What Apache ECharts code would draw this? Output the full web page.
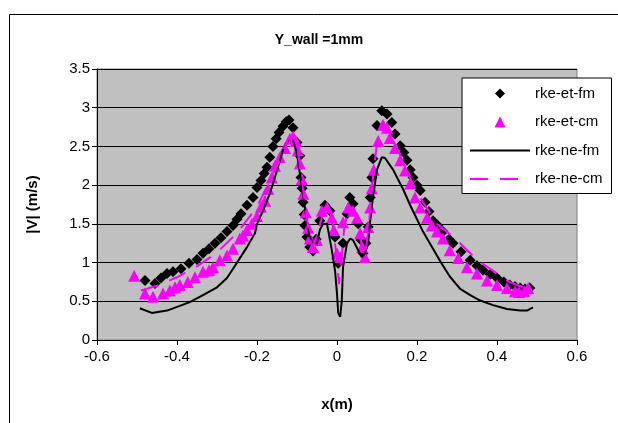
<!DOCTYPE html>
<html>
<head>
<meta charset="utf-8">
<script src="https://cdn.jsdelivr.net/npm/echarts@6/dist/echarts.min.js"></script>
<style>
html,body{margin:0;padding:0;background:#fff;}
#chart{width:618px;height:423px;}
</style>
</head>
<body>
<div id="chart"></div>
<script>
var titleText = 'Y_wall =1mm';
var xName = 'x(m)';
var yName = '|V| (m/s)';
var seriesNames = ['rke-et-fm', 'rke-et-cm', 'rke-ne-fm', 'rke-ne-cm'];

var etFm = [
[-0.48,0.77],[-0.455,0.73],[-0.44,0.8],[-0.425,0.86],[-0.41,0.88],[-0.39,0.92],[-0.37,0.99],[-0.35,1.04],
[-0.335,1.12],[-0.32,1.18],[-0.305,1.25],[-0.29,1.32],[-0.275,1.4],[-0.26,1.48],[-0.25,1.56],[-0.24,1.63],
[-0.225,1.74],[-0.21,1.84],[-0.2,1.97],[-0.19,2.06],[-0.182,2.15],[-0.175,2.23],[-0.168,2.36],[-0.16,2.5],
[-0.152,2.6],[-0.145,2.68],[-0.135,2.76],[-0.127,2.82],[-0.12,2.84],[-0.11,2.74],[-0.1,2.55],[-0.093,2.38],
[-0.09,2.1],[-0.087,1.96],[-0.085,1.78],[-0.082,1.62],[-0.08,1.48],[-0.075,1.33],[-0.068,1.2],[-0.06,1.15],
[-0.052,1.3],[-0.043,1.54],[-0.03,1.74],[-0.018,1.67],[-0.005,1.33],[0.003,0.99],[0.015,1.25],[0.025,1.63],
[0.032,1.84],[0.04,1.76],[0.053,1.5],[0.06,1.29],[0.065,1.12],[0.072,1.25],[0.078,1.46],[0.083,1.84],
[0.087,2.1],[0.09,2.34],[0.1,2.77],[0.112,2.96],[0.125,2.92],[0.137,2.81],[0.145,2.66],[0.158,2.51],
[0.167,2.42],[0.175,2.32],[0.183,2.2],[0.19,2.1],[0.2,2.0],[0.208,1.93],[0.22,1.78],[0.23,1.66],
[0.24,1.54],[0.252,1.48],[0.265,1.4],[0.28,1.3],[0.29,1.25],[0.31,1.14],[0.333,1.03],[0.35,0.96],
[0.365,0.9],[0.383,0.85],[0.4,0.8],[0.417,0.75],[0.432,0.71],[0.445,0.69],[0.458,0.67],[0.47,0.66],[0.482,0.67]
];

var etCm = [
[-0.507,0.83],[-0.48,0.6],[-0.46,0.56],[-0.435,0.6],[-0.418,0.64],[-0.405,0.68],[-0.393,0.71],[-0.373,0.75],
[-0.355,0.81],[-0.335,0.88],[-0.32,0.9],[-0.31,0.94],[-0.293,1.03],[-0.275,1.09],[-0.26,1.18],[-0.243,1.31],
[-0.235,1.35],[-0.225,1.42],[-0.213,1.5],[-0.2,1.6],[-0.19,1.72],[-0.18,1.8],[-0.172,1.95],[-0.163,2.1],
[-0.155,2.25],[-0.143,2.36],[-0.13,2.48],[-0.118,2.6],[-0.11,2.63],[-0.103,2.57],[-0.098,2.45],[-0.093,2.28],
[-0.088,2.08],[-0.084,1.89],[-0.078,1.65],[-0.072,1.45],[-0.068,1.31],[-0.06,1.2],[-0.05,1.29],[-0.038,1.67],
[-0.025,1.71],[-0.013,1.58],[-0.008,1.42],[0.0,1.12],[0.008,1.07],[0.015,1.52],[0.028,1.71],[0.04,1.67],
[0.05,1.58],[0.058,1.38],[0.063,1.2],[0.07,1.07],[0.078,1.46],[0.083,1.71],[0.087,1.96],[0.092,2.2],
[0.103,2.57],[0.115,2.78],[0.125,2.74],[0.132,2.61],[0.145,2.48],[0.158,2.32],[0.17,2.19],[0.183,2.02],
[0.195,1.84],[0.208,1.71],[0.225,1.58],[0.237,1.48],[0.25,1.4],[0.265,1.31],[0.282,1.16],[0.303,1.06],
[0.325,0.94],[0.35,0.86],[0.375,0.77],[0.4,0.71],[0.425,0.67],[0.445,0.63],[0.455,0.62],[0.468,0.63],[0.478,0.67]
];

var neFm = [
[-0.493,0.41],[-0.463,0.35],[-0.425,0.38],[-0.393,0.44],[-0.368,0.49],[-0.335,0.58],[-0.3,0.68],[-0.275,0.8],
[-0.255,0.96],[-0.24,1.08],[-0.225,1.2],[-0.205,1.38],[-0.2,1.5],[-0.185,1.67],[-0.168,1.89],[-0.15,2.19],
[-0.135,2.45],[-0.12,2.6],[-0.11,2.58],[-0.1,2.4],[-0.09,2.05],[-0.08,1.7],[-0.07,1.35],[-0.06,1.25],
[-0.05,1.25],[-0.043,1.42],[-0.035,1.5],[-0.025,1.5],[-0.013,1.16],[-0.005,0.9],[0.0,0.6],[0.003,0.35],
[0.008,0.3],[0.012,0.51],[0.015,0.94],[0.025,1.25],[0.033,1.31],[0.04,1.29],[0.053,1.16],[0.062,1.07],
[0.07,1.12],[0.078,1.25],[0.083,1.54],[0.09,1.85],[0.1,2.2],[0.112,2.36],[0.12,2.35],[0.14,2.2],
[0.165,1.95],[0.183,1.74],[0.2,1.56],[0.215,1.4],[0.24,1.18],[0.26,1.0],[0.282,0.82],[0.308,0.66],
[0.333,0.58],[0.358,0.51],[0.39,0.45],[0.425,0.4],[0.458,0.38],[0.475,0.38],[0.49,0.42]
];

var neCm = [
[-0.49,0.64],[-0.45,0.7],[-0.4,0.81],[-0.35,0.95],[-0.3,1.13],[-0.25,1.38],[-0.2,1.72],[-0.15,2.25],
[-0.12,2.62],[-0.1,2.5],[-0.09,2.15],[-0.08,1.75],[-0.068,1.3],[-0.06,1.2],[-0.045,1.45],[-0.03,1.72],
[-0.018,1.7],[-0.008,1.4],[0.0,1.0],[0.005,0.72],[0.01,0.95],[0.018,1.45],[0.03,1.72],[0.04,1.7],
[0.052,1.55],[0.062,1.2],[0.07,1.08],[0.08,1.5],[0.09,2.1],[0.1,2.55],[0.115,2.78],[0.13,2.72],
[0.15,2.48],[0.2,1.9],[0.25,1.5],[0.3,1.29],[0.333,1.12],[0.36,1.0],[0.4,0.86],[0.43,0.75],
[0.455,0.7],[0.48,0.67]
];

var xTicks = {min: -0.6, max: 0.6, interval: 0.2};
var yTicks = {min: 0, max: 3.5, interval: 0.5};

var FONT = '"Liberation Sans", Arial, sans-serif';
var chart = echarts.init(document.getElementById('chart'), null, {renderer: 'canvas'});
chart.setOption({
  animation: false,
  backgroundColor: '#ffffff',
  graphic: [{
    type: 'rect', left: 7, top: 12, shape: {width: 640, height: 440},
    style: {fill: 'none', stroke: '#000', lineWidth: 1}, z: -10
  }],
  title: {
    text: titleText, left: 314, top: 28, textAlign: 'center',
    textStyle: {fontFamily: FONT, fontSize: 14, fontWeight: 'bold', color: '#000'}
  },
  grid: {
    left: 97, right: 41, top: 69, bottom: 83,
    show: true, backgroundColor: '#c0c0c0', borderColor: '#808080', borderWidth: 1
  },
  legend: {
    orient: 'vertical', left: 462, top: 78,
    padding: [8, 9, 7, 7],
    backgroundColor: '#ffffff', borderColor: '#000', borderWidth: 1,
    itemWidth: 60, itemHeight: 14, itemGap: 13.5,
    textStyle: {fontFamily: FONT, fontSize: 15, color: '#000'},
    data: [
      {name: seriesNames[0], icon: 'path://M0,0L0,0ZM60,14L60,14ZM30,2L35,7L30,12L25,7Z', itemStyle: {color: '#000000', opacity: 1}},
      {name: seriesNames[1], icon: 'path://M0,0L0,0ZM60,14L60,14ZM30,1.5L35.5,12.5L24.5,12.5Z', itemStyle: {color: '#ff00ff', opacity: 1}},
      {name: seriesNames[2], itemStyle: {opacity: 0}},
      {name: seriesNames[3], itemStyle: {opacity: 0}}
    ]
  },
  xAxis: {
    type: 'value', min: xTicks.min, max: xTicks.max, interval: xTicks.interval,
    name: xName, nameLocation: 'middle', nameGap: 57,
    nameTextStyle: {fontFamily: FONT, fontSize: 15, fontWeight: 'bold', color: '#000'},
    axisLine: {show: true, onZero: false, lineStyle: {color: '#000', width: 1}},
    axisTick: {show: true, inside: false, length: 5, lineStyle: {color: '#000'}},
    axisLabel: {fontFamily: FONT, fontSize: 15, color: '#000', margin: 9},
    splitLine: {show: false}
  },
  yAxis: {
    type: 'value', min: yTicks.min, max: yTicks.max, interval: yTicks.interval,
    name: yName, nameLocation: 'middle', nameGap: 57,
    nameTextStyle: {fontFamily: FONT, fontSize: 15, fontWeight: 'bold', color: '#000'},
    axisLine: {show: true, onZero: false, lineStyle: {color: '#000', width: 1}},
    axisTick: {show: true, inside: false, length: 5, lineStyle: {color: '#000'}},
    axisLabel: {fontFamily: FONT, fontSize: 15, color: '#000', margin: 7},
    splitLine: {show: true, lineStyle: {color: '#000', width: 1}}
  },
  series: [
    {
      name: seriesNames[0], type: 'scatter', data: etFm,
      symbol: 'diamond', symbolSize: 11,
      itemStyle: {color: '#000000', opacity: 1}
    },
    {
      name: seriesNames[1], type: 'scatter', data: etCm,
      symbol: 'triangle', symbolSize: 12,
      itemStyle: {color: '#ff00ff', opacity: 1}
    },
    {
      name: seriesNames[2], type: 'line', data: neFm,
      symbol: 'none', showSymbol: false, smooth: false,
      lineStyle: {color: '#000000', width: 2},
      itemStyle: {color: '#000000'}
    },
    {
      name: seriesNames[3], type: 'line', data: neCm,
      symbol: 'none', showSymbol: false, smooth: false,
      lineStyle: {color: '#ff00ff', width: 2, type: [18, 12]},
      itemStyle: {color: '#ff00ff'}
    }
  ]
});
</script>
</body>
</html>
